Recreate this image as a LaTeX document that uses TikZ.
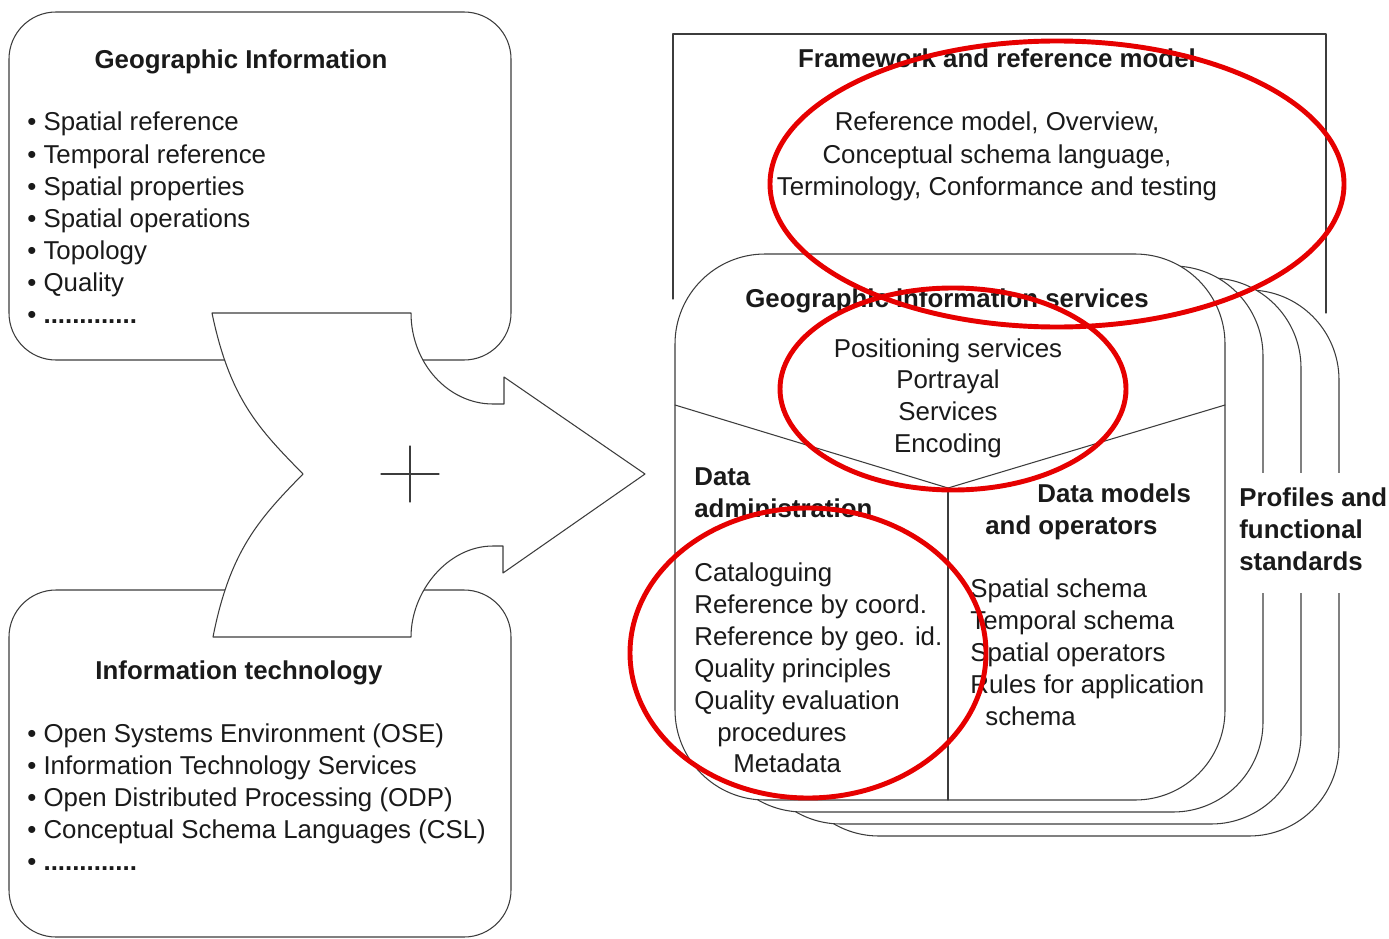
\documentclass[tikz,border=0pt]{standalone}
\usepackage{fontspec}
\setmainfont{Liberation Sans}
\usepackage{tikz}
\definecolor{ink}{HTML}{1A1A1A}
\definecolor{marker}{HTML}{E60000}
\usetikzlibrary{calc}
\newcommand{\dotrow}{\textbf{.............}}
\tikzset{
  every picture/.style={line cap=round, line join=round},
  every node/.style={font=\fontsize{14.7}{18}\selectfont, text=ink, inner sep=0pt},
  box/.style={draw=ink!85, line width=0.6pt, fill=white, rounded corners=0.94cm},
  stackbox/.style={box, rounded corners=1.8cm},
  frame/.style={draw=ink!85, line width=0.6pt},
  arrowshape/.style={draw=ink!85, line width=0.6pt, fill=white},
  heading/.style={font=\fontsize{14.7}{18}\selectfont\bfseries, anchor=base},
  headleft/.style={heading, anchor=base west},
  item/.style={anchor=base west},
  centred/.style={anchor=base},
  redring/.style={draw=marker, line width=2.8pt}
}

\begin{document}
\begin{tikzpicture}[x=0.2mm, y=-0.2mm]
  \useasboundingbox (0,0) rectangle (1389,938);

  % Source boxes
  \draw[box] (9,12) rectangle (511,360);
  \draw[box] (9,590) rectangle (511,937);

  % Merging arrow
  \draw[arrowshape] (212,313) -- (411,313)
    .. controls (411,363) and (448,404) .. (493,404) -- (504,404) -- (504,377)
    -- (645,474) -- (503,573) -- (503,546) -- (493,546)
    .. controls (448,546) and (411,591) .. (411,637) -- (213,637)
    .. controls (230,550) and (260,518) .. (303,474)
    .. controls (260,430) and (230,400) .. (212,313) -- cycle;
  \coordinate (plus) at (410,474);
  \draw[frame] (plus) ++(-29,0) -- ++(58,0);
  \draw[frame] (plus) ++(0,-28) -- ++(0,56);

  % Framework and stacked service boxes
  \draw[frame] (673,299) -- (673,34) -- (1326,34) -- (1326,313);
  \foreach \k in {3,2,1}
    \draw[stackbox] ({675+38*\k},{254+12*\k}) rectangle ++(550,546);
  \draw[stackbox] (675,254) rectangle (1225,800);
  \coordinate (vtip) at (948,488);
  \draw[frame] (675,405) -- (vtip) -- (1225,405);
  \draw[frame] (vtip) -- (948,800);
  \fill[white] (1232,473) rectangle (1389,593);

  % Geographic information
  \node[heading] (geo) at (241,69) {Geographic Information};
  \foreach \t [count=\i from 0] in {Spatial reference, Temporal reference, Spatial properties,
      Spatial operations, Topology, Quality, \dotrow}
    \node[item] (gi\i) at (27,{131+32*\i}) {\textbullet\ \t};

  % Information technology
  \node[heading] (it) at (239,679) {Information technology};
  \foreach \t [count=\i from 0] in {Open Systems Environment (OSE), Information Technology Services,
      Open Distributed Processing (ODP), Conceptual Schema Languages (CSL), \dotrow}
    \node[item] (it\i) at (27,{742+32*\i}) {\textbullet\ \t};

  % Framework
  \node[heading] (fw) at (997,68) {Framework and reference model};
  \foreach \t [count=\i from 0] in {{Reference model, Overview,}, {Conceptual schema language,},
      {Terminology, Conformance and testing}}
    \node[centred] (fw\i) at (997,{131+32*\i}) {\t};

  % Services
  \node[heading] (gis) at (947,307) {Geographic information services};
  \foreach \t [count=\i from 0] in {Positioning services, Portrayal, Services, Encoding}
    \node[centred] (gis\i) at (948,{357+31.7*\i}) {\t};

  % Data administration
  \node[headleft] (da) at (694,485) {Data};
  \node[headleft] (da2) at (694,517) {administration};
  \foreach \t [count=\i from 0] in {Cataloguing, Reference by coord., Reference by geo. id.,
      Quality principles, Quality evaluation}
    \node[item] (da\i) at (694,{581+32*\i}) {\t};
  \node[item] (daproc) at (717,741) {procedures};
  \node[item] (dameta) at (733,772) {Metadata};

  % Data models
  \node[headleft] (dm) at (1037,502) {Data models};
  \node[headleft] (dm2) at (985,534) {and operators};
  \foreach \t [count=\i from 0] in {Spatial schema, Temporal schema, Spatial operators,
      Rules for application}
    \node[item] (dm\i) at (970,{597+32*\i}) {\t};
  \node[item] (dmschema) at (985,725) {schema};

  % Profiles
  \node[headleft] (pf) at (1239,506) {Profiles and};
  \node[headleft] (pf2) at (1239,538) {functional};
  \node[headleft] (pf3) at (1239,570) {standards};

  % Highlights
  \draw[redring] (1057,184) ellipse [x radius=5.74cm, y radius=2.86cm];
  \draw[redring] (953,389) ellipse [x radius=3.46cm, y radius=2.02cm];
  \draw[redring] (808,653) ellipse [x radius=3.56cm, y radius=2.9cm];
\end{tikzpicture}
\end{document}
